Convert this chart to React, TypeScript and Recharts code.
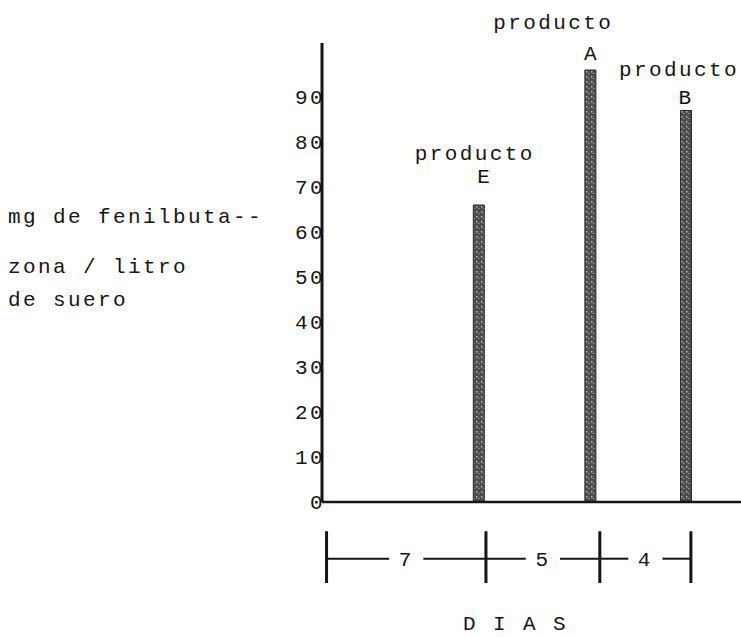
import React from 'react';
import { BarChart, Bar, XAxis, YAxis, ReferenceLine, ReferenceDot, LabelList } from 'recharts';

// ---- data ----
const productos = ['E', 'A', 'B'];
const diasProducto = [6.7, 11.6, 15.8];
const mgLitro = [66, 96, 87];
const yTicks = [0, 10, 20, 30, 40, 50, 60, 70, 80, 90];
const bracketDias = [0, 7, 12, 16];
const bracketLabels = ['7', '5', '4'];
const yLabelLines = ['mg de fenilbuta--', 'zona / litro', 'de suero'];
const xTitle = 'D I A S';
const wordLabel = 'producto';

const data = productos.map((p, i) => ({ producto: p, dia: diasProducto[i], valor: mgLitro[i] }));

// ---- style ----
const FONT = '"Liberation Mono", "DejaVu Sans Mono", monospace';
const FS = 21;
const LS = 2.4;
const INK = '#151515';
const X_DOMAIN: [number, number] = [-0.2, 18.2];
const Y_DOMAIN: [number, number] = [-30, 102];
const Y_TOP = 102;
const BR_TOP = -6.5;
const BR_BOT = -18;
const BR_MID = -12.6;
const GAP = 0.75;
const LABEL_SHIFT = [
  { wDx: -4, wDy: -51, lDx: 6, lDy: -28 },
  { wDx: -37, wDy: -47, lDx: 1, lDy: -16 },
  { wDx: -7, wDy: -40, lDx: 0, lDy: -12 },
];

const textStyle = { fontFamily: FONT, fontSize: FS, letterSpacing: LS, fill: INK } as const;

const renderBarLabel = (props: any) => {
  const { x, y, width, index } = props;
  const s = LABEL_SHIFT[index] || LABEL_SHIFT[0];
  const cx = Number(x) + Number(width) / 2;
  const top = Number(y);
  return (
    <g>
      <text x={cx + s.wDx} y={top + s.wDy} textAnchor="middle" dominantBaseline="central" style={textStyle}>
        {wordLabel}
      </text>
      <text x={cx + s.lDx} y={top + s.lDy} textAnchor="middle" dominantBaseline="central" style={textStyle}>
        {productos[index]}
      </text>
    </g>
  );
};

const renderYLabel = (props: any) => {
  const vb = props.viewBox || { x: 0, y: 0 };
  const offsets = [174, 224, 257];
  return (
    <g>
      {yLabelLines.map((line, i) => (
        <text key={i} x={vb.x + 8} y={vb.y + offsets[i]} dominantBaseline="central" style={textStyle}>
          {line}
        </text>
      ))}
    </g>
  );
};

export default function App() {
  const segs: React.ReactNode[] = [];
  bracketDias.forEach((d, i) => {
    segs.push(
      <ReferenceLine
        key={'v' + i}
        segment={[{ x: d, y: BR_TOP }, { x: d, y: BR_BOT }]}
        stroke={INK}
        strokeWidth={3}
      />
    );
  });
  for (let i = 0; i < bracketLabels.length; i++) {
    const a = bracketDias[i];
    const b = bracketDias[i + 1];
    const m = (a + b) / 2;
    segs.push(
      <ReferenceLine key={'h1' + i} segment={[{ x: a, y: BR_MID }, { x: m - GAP, y: BR_MID }]} stroke={INK} strokeWidth={2} />,
      <ReferenceLine key={'h2' + i} segment={[{ x: m + GAP, y: BR_MID }, { x: b, y: BR_MID }]} stroke={INK} strokeWidth={2} />,
      <ReferenceDot
        key={'t' + i}
        x={m}
        y={BR_MID}
        r={0}
        fill="none"
        stroke="none"
        label={{ value: bracketLabels[i], position: 'center', style: textStyle }}
      />
    );
  }

  return (
    <div style={{ position: 'absolute', left: 0, top: 0, width: 741, height: 637, background: '#fff' }}>
      <BarChart width={741} height={637} data={data} margin={{ top: 43, right: 0, bottom: 0, left: 0 }}>
        <defs>
          <pattern id="speckle" width="5" height="5" patternUnits="userSpaceOnUse">
            <rect width="5" height="5" fill="#4d4d4d" />
            <rect x="1" y="1" width="1.5" height="1.5" fill="#b5b5b5" />
            <rect x="3" y="3" width="1.5" height="1" fill="#9a9a9a" />
          </pattern>
        </defs>
        <XAxis type="number" dataKey="dia" domain={X_DOMAIN} allowDataOverflow hide />
        <YAxis
          type="number"
          domain={Y_DOMAIN}
          allowDataOverflow
          ticks={yTicks}
          width={322}
          axisLine={false}
          tickLine={false}
          tickSize={0}
          tickMargin={0}
          tick={{ ...textStyle, dx: 3 }}
          label={{ content: renderYLabel }}
        />
        <ReferenceLine segment={[{ x: X_DOMAIN[0], y: 0 }, { x: X_DOMAIN[0], y: Y_TOP }]} stroke={INK} strokeWidth={3} />
        <ReferenceLine y={0} stroke={INK} strokeWidth={2.5} />
        {segs}
        <ReferenceDot
          x={8.3}
          y={-26.7}
          r={0}
          fill="none"
          stroke="none"
          label={{ value: xTitle, position: 'center', style: textStyle }}
        />
        <Bar dataKey="valor" barSize={11} fill="url(#speckle)" stroke="#2a2a2a" strokeWidth={1} isAnimationActive={false}>
          <LabelList dataKey="valor" content={renderBarLabel} />
        </Bar>
      </BarChart>
    </div>
  );
}
